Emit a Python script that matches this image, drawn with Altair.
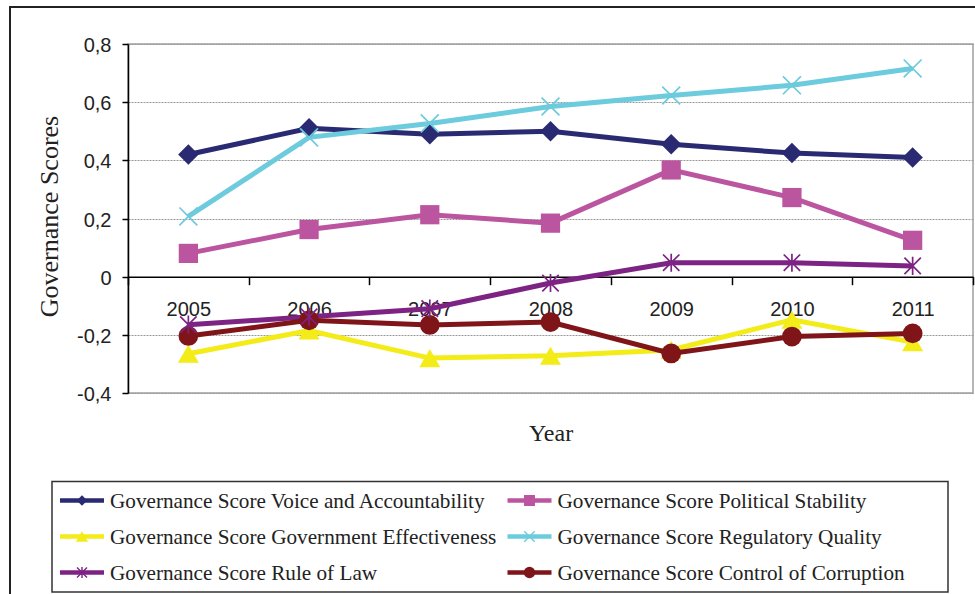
import altair as alt
import pandas as pd

# ---- values -------------------------------------------------------------
years = ["2005", "2006", "2007", "2008", "2009", "2010", "2011"]

series_names = [
    "Governance Score Voice and Accountability",
    "Governance Score Political Stability",
    "Governance Score Government Effectiveness",
    "Governance Score Regulatory Quality",
    "Governance Score Rule of Law",
    "Governance Score Control of Corruption",
]

voice_accountability = [0.42, 0.51, 0.49, 0.50, 0.455, 0.425, 0.41]
political_stability = [0.08, 0.162, 0.213, 0.184, 0.367, 0.272, 0.125]
government_effectiveness = [-0.265, -0.185, -0.28, -0.272, -0.252, -0.148, -0.225]
regulatory_quality = [0.207, 0.479, 0.527, 0.585, 0.623, 0.658, 0.716]
rule_of_law = [-0.165, -0.138, -0.11, -0.022, 0.048, 0.048, 0.037]
control_of_corruption = [-0.204, -0.15, -0.166, -0.156, -0.264, -0.206, -0.195]

y_ticks = [-0.4, -0.2, 0.0, 0.2, 0.4, 0.6, 0.8]

# ---- styles ---------------------------------------------------------------
colors = ["#2a2a72", "#bb55a0", "#f3ec18", "#6ccbdc", "#7d2384", "#7f1518"]
X_PATH = "M-1,-1L1,1M-1,1L1,-1"
STAR_PATH = "M-1,-1L1,1M-1,1L1,-1M0,-1.1L0,1.1"
shapes = ["diamond", "square", "triangle-up", X_PATH, STAR_PATH, "circle"]
filled_marker = [True, True, True, False, False, True]
plot_sizes = [420, 370, 440, 320, 270, 390]
legend_sizes = [110, 120, 150, 110, 100, 130]

all_values = [voice_accountability, political_stability, government_effectiveness,
              regulatory_quality, rule_of_law, control_of_corruption]

rows = []
for i, (name, vals) in enumerate(zip(series_names, all_values)):
    for yr, v in zip(years, vals):
        rows.append({"series": name, "year": yr, "score": v, "order": i,
                     "msize": plot_sizes[i], "filled": filled_marker[i]})
df = pd.DataFrame(rows)

legend_df = pd.DataFrame({
    "series": series_names,
    "col": [i % 2 for i in range(len(series_names))],
    "row": [i // 2 for i in range(len(series_names))],
    "msize": legend_sizes,
    "filled": filled_marker,
})

W, H = 845, 349

color_scale = alt.Scale(domain=series_names, range=colors)
shape_scale = alt.Scale(domain=series_names, range=shapes)
x_scale = alt.Scale(type="band", domain=years, paddingInner=0, paddingOuter=0)
y_scale = alt.Scale(domain=[-0.4, 0.8], nice=False, zero=False)

zero_offset = -H * (0.4 / 1.2)

x_enc = alt.X(
    "year:N", scale=x_scale, bandPosition=0.5,
    axis=alt.Axis(
        title="Year", titleFont="Liberation Serif", titleFontSize=24,
        titleFontWeight="normal", titleColor="#222222",
        titleX=W / 2, titleY=164, titleAlign="center", titleBaseline="alphabetic",
        labelAngle=0, labelFont="Liberation Sans", labelFontSize=20,
        labelColor="#222222", labelPadding=15,
        tickSize=8, tickColor="black", tickWidth=1.5, tickBand="extent",
        domainColor="black", domainWidth=1.5, grid=False, offset=zero_offset,
    ),
)

y_enc = alt.Y(
    "score:Q", scale=y_scale,
    axis=alt.Axis(
        values=y_ticks,
        labelExpr="datum.value == 0 ? '0' : (datum.value < 0 ? '-' : '') + replace(format(abs(datum.value), '.1f'), '.', ',')",
        title="Governance Scores", titleFont="Liberation Serif", titleFontSize=26,
        titleFontWeight="normal", titleColor="#222222",
        titleX=-71, titleY=172, titleAngle=270, titleAlign="center",
        titleBaseline="alphabetic",
        labelFont="Liberation Sans", labelFontSize=20, labelColor="#222222",
        labelPadding=11, labelOffset=1.5,
        tickSize=6, tickColor="black", tickWidth=1.5,
        domainColor="black", domainWidth=1.5,
        grid=True, gridColor="#999999", gridDash=[2, 1], gridWidth=1,
    ),
)

base = alt.Chart(df)

lines = base.mark_line(strokeWidth=5).encode(
    x=x_enc, y=y_enc,
    color=alt.Color("series:N", scale=color_scale, legend=None),
    detail="series:N",
    order="order:Q",
)

filled_pts = base.transform_filter("datum.filled").mark_point(
    filled=True, opacity=1, strokeWidth=0
).encode(
    x=x_enc, y=y_enc,
    color=alt.Color("series:N", scale=color_scale, legend=None),
    shape=alt.Shape("series:N", scale=shape_scale, legend=None),
    size=alt.Size("msize:Q", scale=None),
    order="order:Q",
)

stroked_pts = base.transform_filter("!datum.filled").mark_point(
    filled=False, opacity=1, strokeWidth=1.7
).encode(
    x=x_enc, y=y_enc,
    color=alt.Color("series:N", scale=color_scale, legend=None),
    shape=alt.Shape("series:N", scale=shape_scale, legend=None),
    size=alt.Size("msize:Q", scale=None),
    order="order:Q",
)

# outer frame of the figure
one = pd.DataFrame({"k": [0]})
frame = alt.Chart(one).mark_rect(
    fill="transparent", stroke="#222222", strokeWidth=2
).encode(x=alt.value(-118), x2=alt.value(862), y=alt.value(-37), y2=alt.value(560))

# legend box and entries (two columns, three rows)
legend_box = alt.Chart(one).mark_rect(
    fill="transparent", stroke="#333333", strokeWidth=1.5
).encode(x=alt.value(-76), x2=alt.value(820), y=alt.value(437.5), y2=alt.value(548))

leg = alt.Chart(legend_df).transform_calculate(
    lx0="-68 + datum.col * 447.5",
    lx1="-68 + datum.col * 447.5 + 44",
    mx="-68 + datum.col * 447.5 + 22",
    tx="-68 + datum.col * 447.5 + 50",
    ly="456.5 + datum.row * 36",
)

leg_lines = leg.mark_rule(strokeWidth=4.3).encode(
    x=alt.X("lx0:Q", scale=None), x2="lx1:Q",
    y=alt.Y("ly:Q", scale=None),
    color=alt.Color("series:N", scale=color_scale, legend=None),
)

leg_filled = leg.transform_filter("datum.filled").mark_point(
    filled=True, opacity=1, strokeWidth=0
).encode(
    x=alt.X("mx:Q", scale=None), y=alt.Y("ly:Q", scale=None),
    color=alt.Color("series:N", scale=color_scale, legend=None),
    shape=alt.Shape("series:N", scale=shape_scale, legend=None),
    size=alt.Size("msize:Q", scale=None),
)

leg_stroked = leg.transform_filter("!datum.filled").mark_point(
    filled=False, opacity=1, strokeWidth=1.4
).encode(
    x=alt.X("mx:Q", scale=None), y=alt.Y("ly:Q", scale=None),
    color=alt.Color("series:N", scale=color_scale, legend=None),
    shape=alt.Shape("series:N", scale=shape_scale, legend=None),
    size=alt.Size("msize:Q", scale=None),
)

leg_text = leg.mark_text(
    align="left", baseline="middle", font="Liberation Serif", fontSize=21.2,
    color="#222222", dy=1,
).encode(
    x=alt.X("tx:Q", scale=None), y=alt.Y("ly:Q", scale=None),
    text="series:N",
)

chart = alt.layer(
    frame, lines, filled_pts, stroked_pts,
    legend_box, leg_lines, leg_filled, leg_stroked, leg_text,
).properties(
    width=W, height=H,
    autosize=alt.AutoSizeParams(type="none"),
    padding={"left": 128, "top": 44, "right": 2, "bottom": 201},
    background="white",
).configure_view(
    stroke="#a0a0a0", strokeWidth=1.5,
)

chart.save("out.html", embed_options={"renderer": "svg", "actions": False})
